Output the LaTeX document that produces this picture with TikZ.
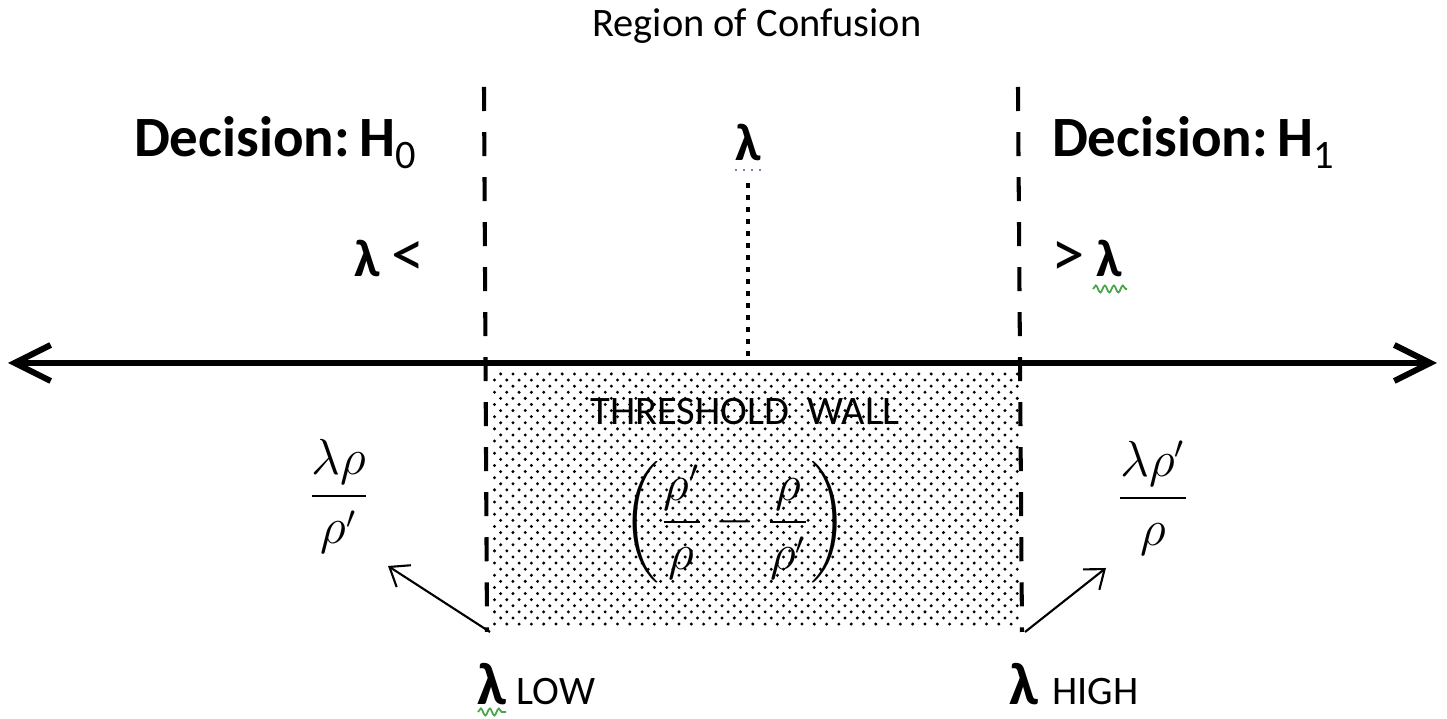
\documentclass[tikz,border=0pt]{standalone}
\usepackage{amsmath}
\usepackage{fontspec}
\setmainfont{Carlito}
\usetikzlibrary{arrows.meta,decorations.pathmorphing}
\definecolor{squig}{RGB}{70,165,70}
\definecolor{squigb}{RGB}{110,130,170}
\tikzset{
  txt/.style={inner sep=0pt, outer sep=0pt, text=black},
  axisline/.style={line width=1.7pt, {Straight Barb[length=3.6mm,width=3.6mm,line width=1.7pt]}-{Straight Barb[length=3.6mm,width=3.6mm,line width=1.7pt]}},
  wall/.style={line width=1.15pt, dash pattern=on 2.4mm off 2.1mm},
  mid/.style={line width=1.1pt, dash pattern=on 0.5mm off 0.7mm},
  pointer/.style={line width=0.6pt, -{Straight Barb[length=1.7mm,width=2.6mm,line width=0.6pt]}},
  wavy/.style={squig, line width=0.5pt, decorate, decoration={snake, amplitude=0.35mm, segment length=0.9mm}},
  dot/.style={fill=black}
}
\begin{document}
\begin{tikzpicture}[x=0.01cm,y=-0.01cm]
\useasboundingbox (0,0) rectangle (1447,719);

% dotted region (threshold wall)
\foreach \j in {0,...,41}{
  \foreach \i in {0,...,42}{
    \fill[dot] ({494.5+12.3*\i+6.15*mod(\j+1,2)},{374+6.1*\j}) circle[radius=0.47pt];
  }
}

% coordinates
\coordinate (axL) at (8,363);
\coordinate (axR) at (1437,363);
\coordinate (lowTop) at (484,87);
\coordinate (lowBot) at (487,632);
\coordinate (highTop) at (1018,87);
\coordinate (highBot) at (1022,632);
\coordinate (midTop) at (748,183);
\coordinate (midBot) at (748,363);
\coordinate (tipL) at (388,566);
\coordinate (tipH) at (1106,568);
\coordinate (startL) at (490,632);
\coordinate (startH) at (1025,632);

% lines
\draw[wall] (lowTop) -- (lowBot);
\draw[wall] (highTop) -- (highBot);
\draw[mid] (midTop) -- (midBot);
\draw[axisline] (axL) -- (axR);
\draw[pointer] (startL) -- (tipL);
\draw[pointer] (startH) -- (tipH);

% texts
\node[txt, anchor=base] (title) at (757,37) {\fontsize{11.5}{14}\selectfont Region of Confusion};
\node[txt, anchor=base west] (dec0) at (134,157) {\fontsize{16.2}{19}\selectfont\bfseries Decision:\,H\raisebox{-3.4pt}{\fontsize{11.5}{13}\selectfont\mdseries 0}};
\node[txt, anchor=base west] (dec1) at (1052,157) {\fontsize{16.2}{19}\selectfont\bfseries Decision:\,H\raisebox{-3.4pt}{\fontsize{11.5}{13}\selectfont\mdseries 1}};
\node[txt, anchor=base] (lam) at (748,161) {\fontsize{15}{18}\selectfont\bfseries λ};
\draw[squigb, line width=0.6pt, dash pattern=on 0.2mm off 0.6mm] ([yshift=-2.5pt]lam.base west) -- ([yshift=-2.5pt]lam.base east);
\node[txt, anchor=base west] (lless) at (354,277) {\fontsize{15}{18}\selectfont\textbf{λ}\ {\fontsize{19}{22}\selectfont <}};
\node[txt, anchor=base west] (lmore) at (1051,277) {{\fontsize{19}{22}\selectfont >}\fontsize{15}{18}\selectfont\ \textbf{λ}};
\coordinate (sqA1) at (1093,289);
\coordinate (sqA2) at (1127,289);
\draw[wavy] (sqA1) -- (sqA2);

\node[txt, anchor=base west] (low) at (477,705) {\fontsize{17}{20}\selectfont\textbf{λ}\kern3pt{\fontsize{11.5}{14}\selectfont LOW}};
\coordinate (sqB1) at (478,712);
\coordinate (sqB2) at (506,712);
\draw[wavy] (sqB1) -- (sqB2);
\node[txt, anchor=base west] (high) at (1009,705) {\fontsize{17}{20}\selectfont\textbf{λ}\kern4pt{\fontsize{11.5}{14}\selectfont HIGH}};

\node[txt, anchor=base] (twall) at (745,425) {\fontsize{11.5}{14}\selectfont THRESHOLD\ \ WALL};
\node[txt] (formula) at (735,522) {\fontsize{13.3}{16}\selectfont $\displaystyle\left(\frac{\rho'}{\rho}-\frac{\rho}{\rho'}\right)$};

\node[txt] (fracL) at (339,496) {\fontsize{13.3}{16}\selectfont $\displaystyle\frac{\lambda\rho}{\rho'}$};
\node[txt] (fracH) at (1153,498) {\fontsize{13.3}{16}\selectfont $\displaystyle\frac{\lambda\rho'}{\rho}$};
\end{tikzpicture}
\end{document}
